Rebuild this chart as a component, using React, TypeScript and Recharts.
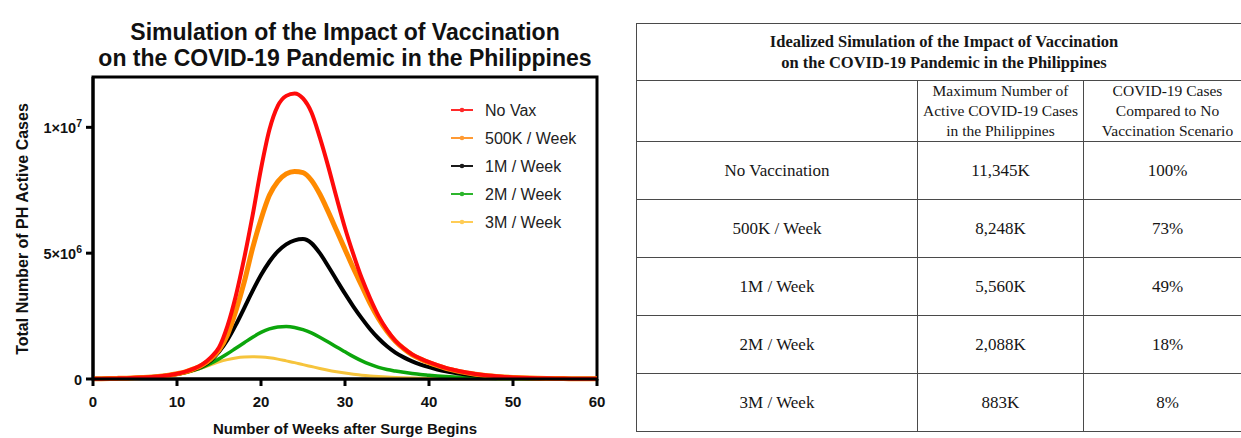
import React from "react";
import { LineChart, Line, XAxis, YAxis, ReferenceArea, Legend } from "recharts";

// ---- data (active cases, in thousands) ----
const weeks = [
  0, 1, 2, 3, 4, 5, 6, 7, 8, 9, 10, 11, 12, 13, 14, 15, 16, 17, 18, 19, 20,
  21, 22, 23, 24, 25, 26, 27, 28, 29, 30, 31, 32, 33, 34, 35, 36, 37, 38, 39, 40,
  41, 42, 43, 44, 45, 46, 47, 48, 49, 50, 51, 52, 53, 54, 55, 56, 57, 58, 59, 60,
];

const noVax = [
  10, 13, 18, 25, 33, 45, 60, 80, 110, 150, 210, 290, 410, 580, 850, 1250, 2100, 3300, 4800, 6500, 8350,
  9900, 10850, 11250, 11345, 11150, 10600, 9600, 8450, 7200, 6000, 4950, 4000, 3200, 2500, 1950, 1520, 1220, 980, 810, 670,
  550, 440, 360, 285, 225, 175, 135, 105, 82, 64, 50, 40, 32, 26, 21, 17, 14, 12, 10, 9,
];

const vax500k = [
  10, 13, 18, 25, 33, 45, 60, 80, 110, 150, 210, 285, 400, 550, 790, 1150, 1750, 2700, 3850, 5200, 6350,
  7300, 7850, 8150, 8248, 8200, 7900, 7350, 6650, 5900, 5150, 4400, 3700, 3000, 2400, 1900, 1500, 1200, 960, 790, 650,
  530, 425, 345, 275, 215, 165, 128, 100, 78, 60, 47, 37, 30, 24, 19, 15, 13, 11, 9, 8,
];

const vax1m = [
  10, 13, 18, 25, 33, 44, 58, 78, 105, 145, 200, 275, 375, 510, 730, 1080, 1550, 2150, 2820, 3500, 4130,
  4660, 5070, 5350, 5510, 5560, 5400, 5000, 4480, 3930, 3390, 2880, 2410, 1980, 1610, 1300, 1050, 860, 700, 575, 470,
  380, 305, 245, 195, 155, 120, 95, 75, 58, 46, 36, 29, 23, 18, 15, 12, 10, 8, 7, 6,
];

const vax2m = [
  10, 13, 18, 25, 33, 44, 57, 75, 100, 140, 195, 260, 350, 465, 620, 800, 1000, 1220, 1440, 1660, 1850,
  1990, 2070, 2088, 2050, 1960, 1830, 1660, 1470, 1270, 1080, 890, 720, 580, 460, 375, 315, 265, 220, 180, 150,
  120, 95, 75, 60, 47, 37, 30, 24, 19, 15, 12, 10, 8, 7, 6, 5, 4, 4, 3, 3,
];

const vax3m = [
  10, 13, 18, 24, 32, 42, 55, 72, 95, 130, 180, 240, 330, 440, 560, 680, 770, 835, 872, 883, 870,
  840, 790, 720, 650, 570, 495, 420, 350, 290, 235, 190, 150, 120, 97, 78, 62, 50, 40, 32, 26,
  21, 17, 14, 11, 9, 7, 6, 5, 4, 3, 3, 2, 2, 2, 2, 1, 1, 1, 1, 1,
];

const seriesKeys = ["noVax", "vax500k", "vax1m", "vax2m", "vax3m"];
const seriesNames = ["No Vax", "500K / Week", "1M / Week", "2M / Week", "3M / Week"];
const seriesColors = ["#ff0a0a", "#ff8a00", "#000000", "#0ca60c", "#f6c43c"];
const legendColors = ["#ff2a2a", "#ff9a33", "#1a1a1a", "#2cb52c", "#ffcc55"];
const seriesWidths = [4, 5, 4, 3.5, 3];
const drawOrder = [4, 3, 2, 1, 0];

const xTicks = [0, 10, 20, 30, 40, 50, 60];
const yTicks = [0, 5000, 10000];
const yTickBase = ["0", "5×10", "1×10"];
const yTickExp = ["", "6", "7"];

const chartTitle = ["Simulation of the Impact of Vaccination", "on the COVID-19 Pandemic in the Philippines"];
const xAxisTitle = "Number of Weeks after Surge Begins";
const yAxisTitle = "Total Number of PH Active Cases";

const tableTitle = ["Idealized Simulation of the Impact of Vaccination", "on the COVID-19 Pandemic in the Philippines"];
const tableHeader1 = ["Maximum Number of", "Active COVID-19 Cases", "in the Philippines"];
const tableHeader2 = ["COVID-19 Cases", "Compared to No", "Vaccination Scenario"];
const scenarioLabels = ["No Vaccination", "500K / Week", "1M / Week", "2M / Week", "3M / Week"];
const maxCases = ["11,345K", "8,248K", "5,560K", "2,088K", "883K"];
const percentOfNoVax = ["100%", "73%", "49%", "18%", "8%"];

const seriesValues = [noVax, vax500k, vax1m, vax2m, vax3m];
const data = weeks.map((w, i) => {
  const row: Record<string, number> = { week: w };
  seriesKeys.forEach((k, s) => {
    row[k] = seriesValues[s][i];
  });
  return row;
});

const SANS = "'Liberation Sans', Arial, Helvetica, sans-serif";
const SERIF = "'Liberation Serif', 'Times New Roman', Times, serif";

const XTick = (props: any) => {
  const { x, y, payload } = props;
  return (
    <text x={x} y={y + 19} textAnchor="middle" fontFamily={SANS} fontWeight="bold" fontSize={15} fill="#111">
      {payload.value}
    </text>
  );
};

const YTick = (props: any) => {
  const { x, y, payload } = props;
  const idx = yTicks.indexOf(payload.value);
  const base = idx >= 0 ? yTickBase[idx] : String(payload.value);
  const exp = idx >= 0 ? yTickExp[idx] : "";
  return (
    <text x={x} y={y + 5.5} textAnchor="end" fontFamily={SANS} fontWeight="bold" fontSize={14.5} fill="#111">
      {base}
      {exp ? (
        <tspan dy={-6} fontSize={10.5}>
          {exp}
        </tspan>
      ) : null}
    </text>
  );
};

const renderLegend = () => (
  <svg width={160} height={140} style={{ display: "block" }}>
    {seriesNames.map((name, i) => {
      const cy = 14 + i * 28;
      return (
        <g key={name}>
          <line x1={3} x2={25} y1={cy} y2={cy} stroke={legendColors[i]} strokeWidth={2} />
          <circle cx={14} cy={cy} r={2.3} fill={legendColors[i]} />
          <text x={37} y={cy + 6} fontFamily={SANS} fontSize={16} fill="#222">
            {name}
          </text>
        </g>
      );
    })}
  </svg>
);

const cellBorder = "1.5px solid #4a4a4a";
const bodyCell: React.CSSProperties = { border: cellBorder, textAlign: "center", fontSize: 17, padding: 0 };
const headCell: React.CSSProperties = {
  border: cellBorder,
  textAlign: "center",
  fontSize: 15.5,
  lineHeight: "20px",
  padding: 0,
};

export default function App() {
  return (
    <div
      style={{
        position: "absolute",
        left: 0,
        top: 0,
        width: 1241,
        height: 438,
        overflow: "hidden",
        background: "#fff",
      }}
    >
      <div style={{ position: "absolute", left: 0, top: 0 }}>
        <LineChart width={620} height={438} data={data} margin={{ top: 77, right: 23, bottom: 0, left: 0 }}>
          <XAxis
            dataKey="week"
            type="number"
            domain={[0, 60]}
            ticks={xTicks}
            interval={0}
            height={59}
            axisLine={{ stroke: "#000", strokeWidth: 3 }}
            tickLine={{ stroke: "#000", strokeWidth: 3 }}
            tickSize={7}
            tickMargin={2}
            tick={<XTick />}
          />
          <YAxis
            type="number"
            domain={[0, 12000]}
            ticks={yTicks}
            interval={0}
            width={93}
            axisLine={{ stroke: "#000", strokeWidth: 3 }}
            tickLine={{ stroke: "#000", strokeWidth: 3 }}
            tickSize={7}
            tickMargin={4}
            tick={<YTick />}
          />
          <ReferenceArea x1={0} x2={60} y1={0} y2={12000} fill="none" fillOpacity={0} stroke="#000" strokeWidth={3} />
          {drawOrder.map((i) => (
            <Line
              key={seriesKeys[i]}
              dataKey={seriesKeys[i]}
              name={seriesNames[i]}
              type="monotone"
              stroke={seriesColors[i]}
              strokeWidth={seriesWidths[i]}
              dot={false}
              activeDot={false}
              isAnimationActive={false}
            />
          ))}
          <Legend
            layout="vertical"
            align="center"
            verticalAlign="middle"
            wrapperStyle={{ left: 448, top: 96, width: 160, height: 140 }}
            content={renderLegend}
          />
        </LineChart>
      </div>

      <svg
        width={620}
        height={438}
        style={{ position: "absolute", left: 0, top: 0, pointerEvents: "none" }}
      >
        <text x={345} y={39.5} textAnchor="middle" fontFamily={SANS} fontWeight="bold" fontSize={23} fill="#111">
          {chartTitle[0]}
        </text>
        <text x={345} y={66} textAnchor="middle" fontFamily={SANS} fontWeight="bold" fontSize={23} fill="#111">
          {chartTitle[1]}
        </text>
        <text x={345} y={434} textAnchor="middle" fontFamily={SANS} fontWeight="bold" fontSize={15} fill="#111">
          {xAxisTitle}
        </text>
        <text
          x={28}
          y={229}
          textAnchor="middle"
          fontFamily={SANS}
          fontWeight="bold"
          fontSize={16}
          fill="#111"
          transform="rotate(-90, 28, 229)"
        >
          {yAxisTitle}
        </text>
      </svg>

      <table
        style={{
          position: "absolute",
          left: 636,
          top: 23,
          width: 615,
          borderCollapse: "collapse",
          fontFamily: SERIF,
          color: "#161616",
          tableLayout: "fixed",
        }}
      >
        <colgroup>
          <col style={{ width: 281 }} />
          <col style={{ width: 166 }} />
          <col style={{ width: 168 }} />
        </colgroup>
        <tbody>
          <tr style={{ height: 57 }}>
            <td
              colSpan={3}
              style={{
                border: cellBorder,
                textAlign: "center",
                fontWeight: "bold",
                fontSize: 16.5,
                lineHeight: "21px",
                padding: 0,
              }}
            >
              {tableTitle[0]}
              <br />
              {tableTitle[1]}
            </td>
          </tr>
          <tr style={{ height: 61 }}>
            <td style={{ border: cellBorder, padding: 0 }}></td>
            <td style={headCell}>
              {tableHeader1[0]}
              <br />
              {tableHeader1[1]}
              <br />
              {tableHeader1[2]}
            </td>
            <td style={headCell}>
              {tableHeader2[0]}
              <br />
              {tableHeader2[1]}
              <br />
              {tableHeader2[2]}
            </td>
          </tr>
          {scenarioLabels.map((label, i) => (
            <tr key={label} style={{ height: 58 }}>
              <td style={bodyCell}>{label}</td>
              <td style={bodyCell}>{maxCases[i]}</td>
              <td style={bodyCell}>{percentOfNoVax[i]}</td>
            </tr>
          ))}
        </tbody>
      </table>
    </div>
  );
}
